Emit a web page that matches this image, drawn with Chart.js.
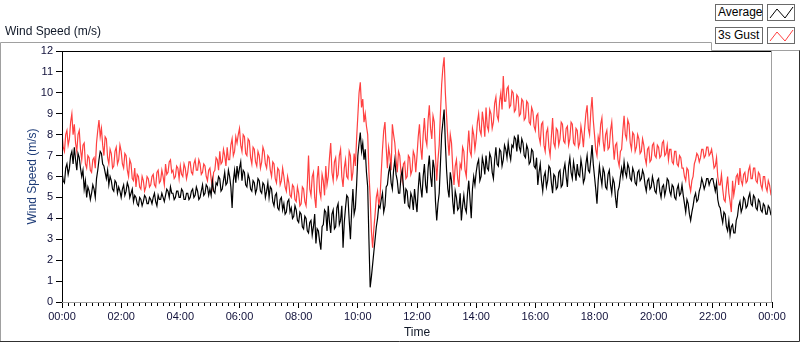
<!DOCTYPE html>
<html lang="en">
<head>
    <meta charset="UTF-8">
    <title>Wind Speed (m/s)</title>
    <style>
        body {
            margin: 0;
            background: #fff;
            font-family: "Liberation Sans", Arial, sans-serif;
        }
        #wrap {
            position: relative;
            width: 800px;
            height: 342px;
        }
        #chart {
            position: absolute;
            left: 0;
            top: 0;
        }
        #title {
            position: absolute;
            left: 5px;
            top: 24px;
            font-size: 12px;
            color: #101828;
        }
        .lg-text, .lg-icon {
            position: absolute;
            height: 15px;
            border: 1px solid #6a6a6a;
            background: #fff;
        }
        .lg-text {
            left: 715px;
            width: 44px;
            padding-left: 2px;
            font-size: 12px;
            line-height: 15px;
            color: #000;
            white-space: nowrap;
        }
        .lg-icon {
            left: 767px;
            width: 26px;
        }
    </style>
</head>
<body>
<div id="wrap">
    <canvas id="chart" width="800" height="342"></canvas>
    <div id="title">Wind Speed (m/s)</div>
    <div class="lg-text" style="top:4px">Average</div>
    <div class="lg-icon" style="top:4px">
        <svg width="26" height="15"><polyline points="2,13 9,4 17,13 25,2" fill="none" stroke="#000" stroke-width="1"/></svg>
    </div>
    <div class="lg-text" style="top:27px">3s Gust</div>
    <div class="lg-icon" style="top:27px">
        <svg width="26" height="15"><polyline points="2,13 9,4 17,13 25,2" fill="none" stroke="#ff4040" stroke-width="1"/></svg>
    </div>
</div>

<script src="https://cdn.jsdelivr.net/npm/chart.js"></script>
<script>
    // one sample every 2.5 minutes, 00:00 -> 24:00 (one row per hour)
    const sampleMinutes = 2.5;
    const timeTicks = ['00:00', '02:00', '04:00', '06:00', '08:00', '10:00', '12:00',
                       '14:00', '16:00', '18:00', '20:00', '22:00', '00:00'];

    const avgSpeed = [
        6.2,5.8, 5.7,6.4, 6.6,6.1, 6.4,7.0, 7.2,6.6, 7.4,6.8, 6.3,7.1, 6.9,6.4, 6.0,6.3, 5.4,5.8, 5.0,5.5, 5.3,4.9,
        5.2,5.6, 5.4,5.0, 5.9,6.3, 6.8,7.2, 7.1,6.6, 6.5,6.2, 5.9,6.3, 5.6,6.0, 5.8,5.4, 5.3,5.8, 5.7,5.2, 5.5,5.3,
        5.0,5.4, 5.6,5.1, 5.3,5.7, 5.5,5.0, 5.2,5.4, 4.8,5.1, 5.0,4.7, 4.6,5.0, 4.9,4.6, 4.8,5.1, 5.0,4.7, 4.7,5.0,
        4.9,4.7, 5.0,5.2, 4.8,4.6, 5.1,4.9, 4.9,5.2, 5.0,4.8, 5.1,5.4, 5.3,5.0, 5.5,5.2, 5.2,4.9, 5.0,5.3, 5.3,5.0,
        5.0,5.4, 5.3,4.9, 4.9,5.2, 5.2,4.9, 5.0,5.3, 5.4,5.0, 5.1,5.5, 5.3,4.9, 5.0,5.3, 5.6,5.1, 5.2,5.6, 5.5,5.1,
        5.4,5.1, 5.8,5.3, 5.2,5.7, 5.6,6.0, 5.9,5.3, 5.4,5.8, 6.2,5.6, 5.7,6.3, 6.0,5.5, 4.5,5.8, 6.3,5.7, 6.5,6.0,
        6.4,6.7, 5.8,6.3, 6.2,5.6, 5.5,6.1, 5.9,5.4, 5.3,5.8, 5.7,5.2, 5.4,5.9, 5.8,5.3, 5.2,5.7, 5.6,5.0, 5.3,5.7,
        5.0,5.5, 5.4,4.8, 4.6,5.1, 5.2,4.5, 4.4,4.9, 5.0,4.4, 4.7,4.2, 4.3,4.8, 4.9,4.3, 4.5,4.0, 4.1,4.6, 4.4,3.9,
        3.8,4.3, 4.2,3.6, 3.5,4.1, 4.0,3.4, 3.3,3.8, 3.9,3.2, 3.6,4.2, 2.8,3.5, 3.4,2.9, 2.5,3.6, 3.7,4.4, 4.3,3.4,
        4.6,3.8, 3.3,4.2, 4.4,3.5, 3.6,4.5, 4.7,3.7, 3.9,4.6, 2.6,3.8, 4.5,5.1, 5.0,3.9, 3.0,4.4, 5.4,4.2, 4.5,5.6,
        7.0,7.6, 8.1,7.2, 7.6,6.8, 7.3,6.2, 5.5,3.0, 0.7,1.2, 1.8,2.4, 3.0,3.6, 4.0,4.6, 4.5,4.9, 5.2,4.3, 4.6,5.5,
        5.6,6.2, 6.5,5.7, 5.4,6.3, 6.8,6.1, 5.8,5.2, 5.2,6.0, 6.3,5.5, 4.7,5.4, 5.3,4.6, 4.5,5.2, 5.0,4.4, 5.4,4.8,
        4.3,5.4, 6.2,5.5, 5.0,6.0, 6.6,5.6, 5.2,6.4, 7.0,6.0, 5.5,6.8, 6.4,4.8, 3.9,4.7, 5.2,6.6, 8.0,8.6, 9.2,7.6,
        6.3,5.4, 5.0,6.2, 5.8,4.8, 4.2,5.3, 5.0,4.4, 4.5,5.2, 3.9,4.6, 5.1,4.5, 4.3,5.2, 5.8,4.9, 4.0,5.4, 6.0,5.6,
        6.2,6.6, 6.8,5.8, 6.0,6.9, 6.6,6.1, 7.0,6.4, 6.3,7.1, 6.9,6.2, 5.9,6.8, 7.4,6.6, 6.5,7.3, 7.2,6.5, 6.8,7.5,
        7.3,6.9, 7.6,7.1, 6.8,7.5, 7.4,7.9, 7.8,7.2, 8.0,7.4, 7.2,7.8, 7.6,7.0, 6.9,7.5, 7.3,6.6, 6.7,7.3, 7.2,6.5,
        6.4,6.9, 5.6,6.2, 6.6,5.8, 5.3,6.0, 6.2,5.5, 5.8,6.5, 6.4,5.7, 5.2,6.1, 6.0,5.4, 5.5,6.2, 6.3,5.5, 5.6,6.3,
        6.6,6.0, 5.5,6.5, 6.9,6.2, 5.9,6.7, 6.3,5.8, 6.6,6.1, 6.0,6.8, 6.4,5.7, 5.9,6.6, 7.0,6.3, 6.2,6.8, 7.5,6.6,
        6.0,5.4, 4.7,5.8, 6.5,6.0, 5.6,6.4, 6.2,5.5, 5.4,6.1, 6.3,5.6, 5.2,5.9, 5.7,5.0, 4.5,5.3, 5.5,6.0, 6.4,6.0,
        6.7,6.2, 6.0,6.6, 6.4,5.9, 5.8,6.4, 6.2,5.7, 5.6,6.2, 6.3,5.8, 5.9,6.3, 6.1,5.6, 5.3,5.8, 5.9,5.4, 5.5,6.0,
        5.7,5.3, 5.2,5.8, 5.9,5.3, 5.0,5.5, 5.6,5.1, 5.4,5.9, 5.8,5.3, 5.1,5.6, 5.5,5.0, 4.9,5.4, 5.6,5.1, 5.2,5.6,
        5.1,4.7, 4.3,4.9, 4.7,4.2, 3.9,4.3, 4.6,5.0, 5.2,4.8, 4.9,5.3, 5.5,5.9, 5.7,5.4, 5.6,5.9, 5.9,5.6, 5.8,5.9,
        5.9,5.6, 5.3,5.7, 4.9,4.6, 4.5,4.1, 3.8,4.3, 4.2,3.6, 3.4,3.9, 3.2,3.6, 3.7,3.3, 3.3,3.9, 4.1,4.6, 4.8,4.3,
        4.5,5.0, 4.9,4.5, 4.6,5.0, 5.2,4.7, 4.6,5.1, 5.0,4.5, 4.4,4.9, 4.8,4.4, 4.3,4.7, 4.6,4.2, 4.2,4.6, 4.5,4.2, 4.3
    ];

    const gustSpeed = [
        8.1,7.4, 7.2,8.0, 8.2,7.5, 7.8,8.6, 9.0,8.0, 8.5,7.6, 7.2,8.0, 8.2,7.3, 6.8,7.5, 7.6,6.6, 6.4,7.0, 6.9,6.3,
        6.2,6.8, 6.9,6.4, 7.6,8.2, 8.7,7.9, 8.3,7.5, 7.0,7.9, 7.8,6.9, 6.6,7.3, 7.1,6.4, 6.5,7.2, 7.4,6.6, 6.8,7.5,
        7.2,6.6, 6.4,7.1, 7.0,6.3, 6.0,6.8, 6.6,5.9, 5.8,6.4, 5.5,6.1, 6.0,5.5, 5.4,6.0, 5.8,5.3, 5.5,6.0, 5.9,5.5,
        5.6,6.0, 6.1,5.6, 5.5,6.2, 6.3,5.7, 5.8,6.3, 6.0,5.6, 6.6,6.1, 6.2,6.7, 6.8,6.2, 6.3,5.9, 6.0,6.5, 6.4,5.9,
        6.5,6.1, 6.0,6.6, 6.4,5.9, 6.2,6.7, 6.7,6.2, 6.1,6.6, 6.8,6.3, 6.3,6.8, 6.6,6.1, 6.2,6.6, 6.5,6.0, 5.8,6.3,
        6.4,5.9, 5.5,6.2, 6.3,6.9, 6.8,6.3, 7.2,6.6, 6.7,7.3, 7.0,6.5, 7.4,6.8, 6.8,7.5, 7.8,7.0, 7.2,7.9, 7.6,8.0,
        8.3,7.5, 7.2,8.0, 7.9,7.1, 7.0,7.8, 7.7,6.9, 6.6,7.4, 7.3,6.7, 6.5,7.2, 7.0,6.4, 6.7,7.4, 7.2,6.6, 6.4,7.0,
        6.9,6.3, 6.0,6.7, 6.6,5.9, 5.7,6.4, 6.3,5.6, 5.8,6.4, 6.0,5.5, 5.3,6.0, 5.7,5.1, 5.0,5.6, 5.5,4.9, 4.8,5.5,
        5.2,4.6, 4.7,5.5, 5.4,4.8, 4.6,5.6, 7.0,5.4, 5.1,6.0, 6.2,5.0, 4.5,5.9, 6.5,5.3, 5.0,6.1, 5.8,5.1, 6.5,5.6,
        6.0,6.9, 7.6,6.2, 5.8,6.7, 6.9,5.9, 6.1,7.0, 7.3,6.0, 5.5,6.4, 6.8,6.0, 5.9,7.2, 7.0,5.8, 6.2,7.1, 6.5,7.8,
        8.9,10.0, 10.5,9.3, 9.7,8.6, 9.0,8.4, 8.0,6.2, 5.0,3.4, 2.6,3.5, 4.2,5.0, 5.3,4.6, 5.0,6.2, 7.3,8.2, 8.6,7.4,
        6.4,7.4, 7.0,6.3, 8.5,8.0, 7.6,6.8, 6.2,7.2, 7.0,6.2, 5.8,6.6, 6.7,5.9, 6.0,7.0, 6.9,6.1, 6.3,7.2, 7.0,6.2,
        7.0,7.9, 8.5,7.4, 6.8,8.0, 8.8,7.8, 7.5,8.7, 9.4,8.3, 7.8,8.9, 8.6,7.0, 5.8,6.8, 7.5,9.0, 10.4,11.2, 11.7,10.0,
        8.9,7.8, 7.0,8.0, 7.6,6.4, 5.6,6.5, 6.8,5.9, 5.5,6.6, 6.4,7.4, 7.2,6.3, 6.0,7.3, 8.2,7.2, 7.0,8.3, 8.0,7.3,
        7.8,8.6, 9.0,8.2, 8.0,9.1, 8.6,7.9, 9.3,8.4, 8.2,9.2, 9.0,8.3, 8.6,9.5, 9.8,8.9, 8.7,9.6, 10.0,9.2, 10.8,9.6,
        9.6,10.2, 10.3,9.3, 9.4,10.1, 10.0,9.1, 9.2,9.9, 9.8,8.9, 9.0,9.7, 9.6,8.7, 8.8,9.6, 9.5,8.6, 8.5,9.3, 9.1,8.4,
        8.2,8.9, 9.0,7.9, 7.6,8.5, 8.6,7.5, 7.2,8.1, 8.3,7.4, 7.0,7.9, 8.8,7.6, 7.4,8.3, 8.2,7.5, 7.8,8.6, 8.5,7.7,
        7.6,8.3, 8.4,7.5, 7.8,8.6, 8.5,7.6, 7.5,8.3, 8.2,7.4, 7.6,8.4, 8.0,7.4, 8.3,9.0, 9.4,8.3, 8.0,9.1, 9.8,8.7,
        8.0,7.3, 7.0,7.9, 7.6,8.5, 8.8,7.7, 7.2,8.0, 8.2,7.3, 7.4,8.2, 8.6,7.6, 6.8,7.5, 7.6,6.8, 6.5,7.2, 7.3,8.2,
        8.9,8.0, 7.8,8.7, 8.5,7.6, 7.3,8.1, 8.0,7.2, 7.4,8.0, 7.8,7.1, 7.2,7.8, 7.5,6.9, 6.6,7.3, 7.4,6.7, 6.8,7.5,
        7.6,7.0, 6.9,7.5, 7.4,6.9, 7.0,7.6, 7.7,7.0, 7.1,7.5, 6.8,7.3, 7.3,6.7, 6.6,7.2, 7.2,6.6, 6.5,7.0, 6.9,6.4,
        6.4,6.0, 5.8,6.4, 6.3,5.6, 5.3,5.8, 6.0,6.6, 6.8,7.1, 7.0,6.7, 6.9,7.3, 7.3,6.9, 7.0,7.4, 7.4,7.0, 7.1,7.3,
        6.9,6.4, 6.5,6.9, 6.0,5.6, 5.6,6.1, 5.4,4.9, 4.8,5.5, 6.0,5.2, 4.8,4.3, 5.8,5.1, 5.5,6.0, 6.1,5.6, 6.4,5.8,
        5.6,6.1, 6.2,5.7, 5.8,6.3, 6.5,5.9, 5.9,6.4, 6.4,5.8, 5.7,6.2, 6.1,5.6, 5.4,6.0, 6.0,5.5, 5.3,5.8, 5.6,5.2, 5.4
    ];

    const toPoints = arr => arr.map((v, i) => ({ x: i * sampleMinutes, y: v }));

    const tickFont = { family: '"Liberation Sans", Arial, sans-serif', size: 11 };
    const tickColor = '#10103a';

    // LabVIEW-like plot frame, outer panel and minor ticks
    const framePlugin = {
        id: 'frame',
        beforeDraw(chart) {
            const c = chart.ctx;
            c.save();
            c.lineWidth = 1;
            c.strokeStyle = '#a0a0a0';
            c.beginPath();
            c.moveTo(0.5, 342);
            c.lineTo(0.5, 42.5);
            c.lineTo(711.5, 42.5);
            c.lineTo(711.5, 50.5);
            c.lineTo(800, 50.5);
            c.stroke();
            c.strokeStyle = '#303030';
            c.beginPath();
            c.moveTo(799.5, 50.5);
            c.lineTo(799.5, 341.5);
            c.lineTo(0, 341.5);
            c.stroke();
            c.restore();
        },
        afterDraw(chart) {
            const c = chart.ctx;
            const a = chart.chartArea;
            const xs = chart.scales.x;
            c.save();
            c.lineWidth = 1;
            c.strokeStyle = '#000';
            c.beginPath();
            c.moveTo(a.left, a.top + 0.5);
            c.lineTo(a.right, a.top + 0.5);
            c.moveTo(a.left + 0.5, a.top);
            c.lineTo(a.left + 0.5, a.bottom);
            c.stroke();
            c.strokeStyle = '#a0a0a0';
            c.beginPath();
            c.moveTo(a.left, a.bottom + 0.5);
            c.lineTo(a.right, a.bottom + 0.5);
            c.moveTo(a.right - 0.5, a.top);
            c.lineTo(a.right - 0.5, a.bottom + 1);
            c.stroke();
            c.strokeStyle = '#000';
            c.beginPath();
            for (let m = 12; m < 1440; m += 12) {
                if (m % 120 === 0) continue;
                const px = Math.round(xs.getPixelForValue(m)) + 0.5;
                c.moveTo(px, a.bottom + 1);
                c.lineTo(px, a.bottom + 4);
            }
            c.stroke();
            c.restore();
        }
    };

    new Chart(document.getElementById('chart'), {
        type: 'line',
        data: {
            datasets: [
                {
                    label: 'Average',
                    data: toPoints(avgSpeed),
                    borderColor: '#000000',
                    borderWidth: 1.2
                },
                {
                    label: '3s Gust',
                    data: toPoints(gustSpeed),
                    borderColor: '#ff4040',
                    borderWidth: 1.2
                }
            ]
        },
        options: {
            responsive: false,
            animation: false,
            parsing: false,
            layout: { padding: { top: 51, right: 28, left: 0, bottom: 0 } },
            elements: { point: { radius: 0 }, line: { tension: 0 } },
            plugins: {
                legend: { display: false },
                tooltip: { enabled: false }
            },
            scales: {
                x: {
                    type: 'linear',
                    min: 0,
                    max: 1440,
                    afterFit: s => { s.height = 40; },
                    border: { display: false },
                    grid: {
                        drawOnChartArea: false,
                        tickLength: 6,
                        tickColor: ctx => (ctx.tick && ctx.tick.value % 120 === 0) ? '#000' : 'rgba(0,0,0,0)'
                    },
                    ticks: {
                        stepSize: 12,
                        autoSkip: false,
                        maxRotation: 0,
                        padding: 2,
                        font: tickFont,
                        color: tickColor,
                        callback: v => v % 120 === 0 ? timeTicks[v / 120] : ''
                    },
                    title: {
                        display: true,
                        text: 'Time',
                        font: { family: '"Liberation Sans", Arial, sans-serif', size: 12 },
                        color: '#101828',
                        padding: { top: 0, bottom: 2 }
                    }
                },
                y: {
                    min: 0,
                    max: 12,
                    afterFit: s => { s.width = 62; },
                    border: { display: false },
                    grid: { drawOnChartArea: false, tickLength: 6, tickColor: '#000' },
                    ticks: {
                        stepSize: 1,
                        padding: 3,
                        font: tickFont,
                        color: tickColor
                    },
                    title: {
                        display: true,
                        text: 'Wind Speed (m/s)',
                        font: { family: '"Liberation Sans", Arial, sans-serif', size: 12 },
                        color: '#1e3c78',
                        padding: { top: 25, bottom: 0 }
                    }
                }
            }
        },
        plugins: [framePlugin]
    });
</script>
</body>
</html>
